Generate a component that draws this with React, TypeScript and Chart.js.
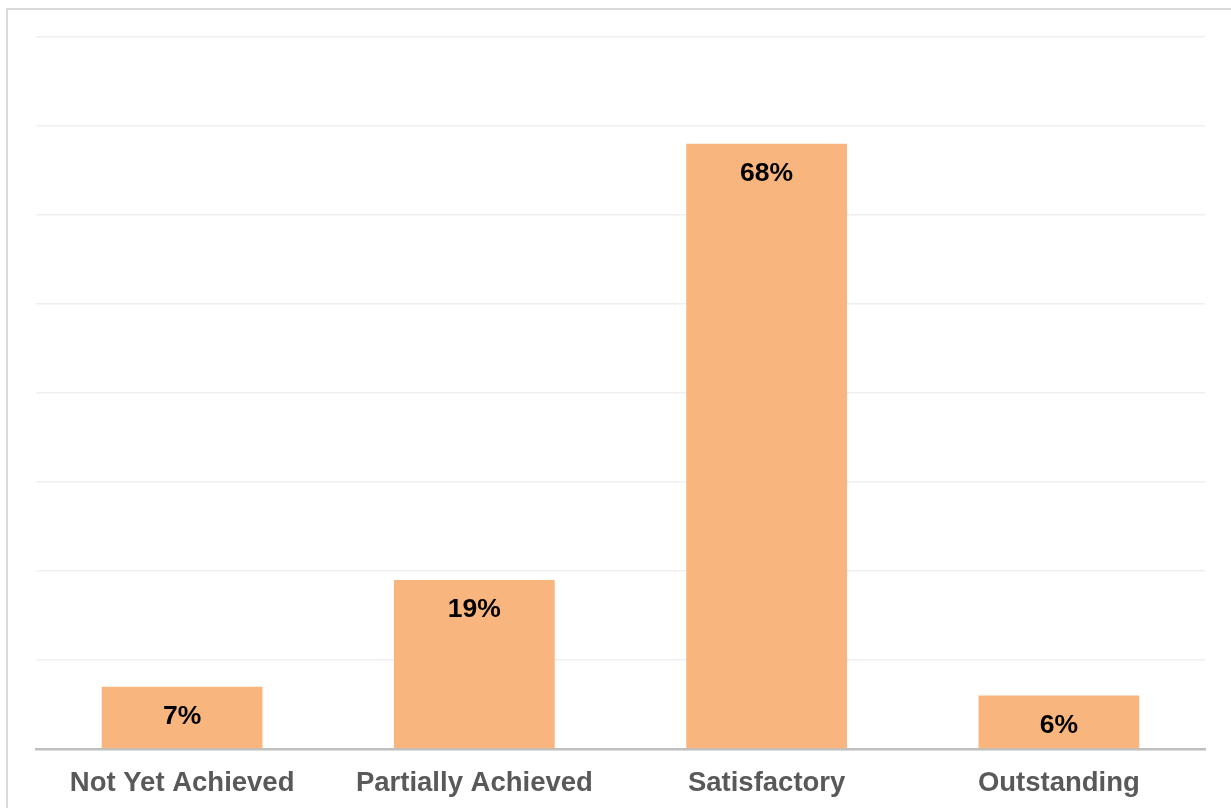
import React, { useEffect, useRef } from "react";
import { Chart, registerables } from "chart.js";

Chart.register(...registerables);

const categories: string[] = ["Not Yet Achieved", "Partially Achieved", "Satisfactory", "Outstanding"];
const shares: number[] = [7, 19, 68, 6];
const axisMax = 80;
const axisStep = 10;

const FONT = "'Liberation Sans', Arial, Helvetica, sans-serif";

// Writes each bar's percentage just inside its top edge.
const barValueLabels = {
  id: "barValueLabels",
  afterDatasetsDraw(chart: any) {
    const ctx = chart.ctx;
    const meta = chart.getDatasetMeta(0);
    const values = chart.data.datasets[0].data as number[];
    ctx.save();
    ctx.font = `bold 26.5px ${FONT}`;
    ctx.fillStyle = "#000000";
    ctx.textAlign = "center";
    ctx.textBaseline = "middle";
    meta.data.forEach((bar: any, i: number) => {
      ctx.fillText(`${values[i]}%`, bar.x, bar.y + 30);
    });
    ctx.restore();
  },
};

export default function App() {
  const canvasRef = useRef<HTMLCanvasElement | null>(null);

  useEffect(() => {
    if (!canvasRef.current) return;
    const chart = new Chart(canvasRef.current, {
      type: "bar",
      data: {
        labels: categories,
        datasets: [
          {
            data: shares,
            backgroundColor: "#F8B67E",
            borderWidth: 0,
            barPercentage: 0.55,
            categoryPercentage: 1,
          },
        ],
      },
      options: {
        responsive: false,
        animation: false,
        devicePixelRatio: 1,
        layout: { padding: { left: 36, right: 26, top: 37, bottom: 8 } },
        plugins: {
          legend: { display: false },
          tooltip: { enabled: false },
        },
        scales: {
          x: {
            grid: { display: false, drawTicks: false },
            border: { display: true, color: "#BFBFBF", width: 2.5 },
            ticks: {
              color: "#595959",
              font: { family: FONT, size: 27.5, weight: "bold" },
              padding: 18,
              maxRotation: 0,
              autoSkip: false,
            },
          },
          y: {
            min: 0,
            max: axisMax,
            ticks: { display: false, stepSize: axisStep },
            grid: { color: "#EFEFEF", lineWidth: 1.5, drawTicks: false },
            border: { display: false },
          },
        },
      },
      plugins: [barValueLabels],
    });
    return () => chart.destroy();
  }, []);

  return (
    <div
      style={{
        position: "fixed",
        left: 0,
        top: 0,
        width: 1231,
        height: 808,
        overflow: "hidden",
        background: "#ffffff",
      }}
    >
      <div
        style={{
          position: "absolute",
          left: 6,
          top: 8,
          width: 1300,
          height: 900,
          border: "2px solid #D9D9D9",
        }}
      />
      <canvas
        ref={canvasRef}
        width={1231}
        height={826}
        style={{ position: "absolute", left: 0, top: 0, width: 1231, height: 826 }}
      />
    </div>
  );
}
